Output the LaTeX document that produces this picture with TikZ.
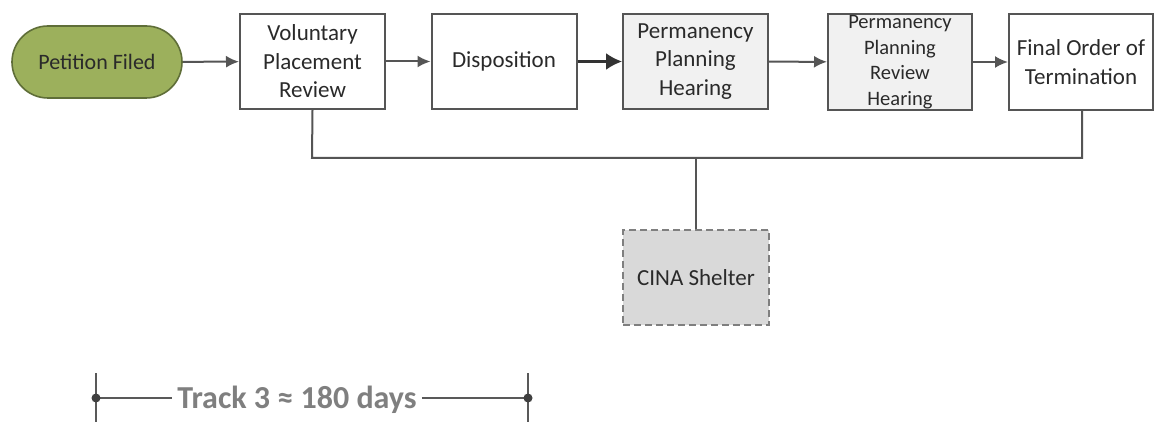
\documentclass[tikz,border=0pt]{standalone}
\usepackage{fontspec}
\setmainfont{Carlito}
\usetikzlibrary{arrows.meta,shapes.misc}
\definecolor{boxline}{HTML}{555555}
\definecolor{txt}{HTML}{2A2A2A}
\definecolor{olive}{HTML}{9CB05C}
\definecolor{oliveline}{HTML}{5F6E38}
\definecolor{lightfill}{HTML}{F1F1F1}
\definecolor{shelterfill}{HTML}{D9D9D9}
\definecolor{trackgray}{HTML}{7F7F7F}
\tikzset{
  stepbox/.style={draw=boxline, line width=2pt, fill=white, text=txt, align=center,
    inner sep=0pt, minimum width=145pt, minimum height=95pt,
    font=\fontsize{23}{28.5}\selectfont},
  flow/.style={draw=boxline, line width=2pt, -{Latex[length=13pt,width=12pt]}},
  bus/.style={draw=boxline, line width=2pt},
}
\begin{document}
\begin{tikzpicture}[x=1pt,y=-1pt]
\useasboundingbox (0,0) rectangle (1154,422);
\fill[white] (0,0) rectangle (1154,422);

\node[rounded rectangle, draw=oliveline, line width=1.6pt, fill=olive, text=txt,
  minimum width=170pt, minimum height=72pt, inner sep=0pt,
  font=\fontsize{22}{26}\selectfont] (pf) at (97,62) {Petition Filed};
\node[stepbox] (vpr) at (312.5,61.5) {Voluntary\\Placement\\Review};
\node[stepbox] (disp) at (504,61.5) {Disposition};
\node[stepbox, fill=lightfill] (pph) at (695.5,61.5) {Permanency\\Planning\\Hearing};
\node[stepbox, fill=lightfill, minimum width=144pt, minimum height=96pt,
  font=\fontsize{20.5}{25.5}\selectfont] (pprh) at (900,62) {Permanency\\Planning\\Review\\Hearing};
\node[stepbox, minimum width=144pt, minimum height=96pt] (fot) at (1081,62) {Final Order of\\Termination};

\node[draw=trackgray, dash pattern=on 7pt off 4pt, line width=2pt, fill=shelterfill, text=txt,
  minimum width=146pt, minimum height=95pt, inner sep=0pt,
  font=\fontsize{23}{28}\selectfont] (cina) at (696,277.5) {CINA Shelter};

\draw[flow] (pf) -- (vpr);
\draw[flow] (vpr) -- (disp);
\draw[draw=black!80, line width=2.2pt, -{Latex[length=16pt,width=17pt]}] (disp) -- (pph);
\draw[flow] (pph) -- (pprh);
\draw[flow] (pprh) -- (fot);

\coordinate (jl) at (312,158);
\coordinate (jr) at (1082,158);
\coordinate (jm) at (696,158);
\draw[bus] (vpr.south) -- (jl) -- (jr) -- (fot.south -| jr);
\draw[bus] (jm) -- (cina.north);

\coordinate (tl) at (96,398);
\coordinate (tr) at (528,398);
\node[anchor=base, text=trackgray, font=\bfseries\fontsize{32}{36}\selectfont, inner sep=5pt] (track) at (297,408) {Track 3 ≈ 180 days};
\draw[draw=black!65, line width=1.6pt] (96,373) -- (96,422);
\draw[draw=black!65, line width=1.6pt] (528,373) -- (528,422);
\draw[draw=black!65, line width=1.6pt] (tl) -- (tl -| track.west);
\draw[draw=black!65, line width=1.6pt] (tr -| track.east) -- (tr);
\fill[black!75] (tl) circle (4.5pt);
\fill[black!75] (tr) circle (4.5pt);
\end{tikzpicture}
\end{document}
